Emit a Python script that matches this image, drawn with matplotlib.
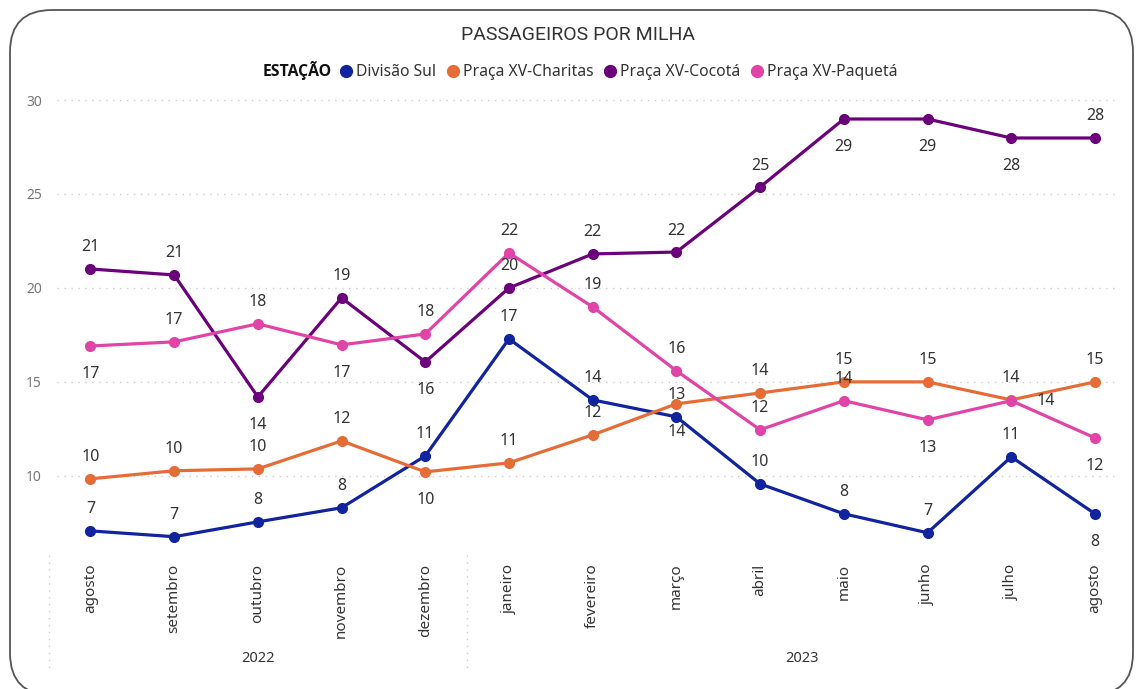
import matplotlib
matplotlib.use("Agg")
import matplotlib.pyplot as plt
from matplotlib.patches import FancyBboxPatch
from matplotlib.lines import Line2D
import matplotlib.transforms as mtransforms

# dados
meses = ["agosto", "setembro", "outubro", "novembro", "dezembro", "janeiro", "fevereiro",
         "março", "abril", "maio", "junho", "julho", "agosto"]
anos = ["2022", "2023"]
estacoes = ["Divisão Sul", "Praça XV-Charitas", "Praça XV-Cocotá", "Praça XV-Paquetá"]

divisao_sul = [7.07, 6.76, 7.55, 8.30, 11.06, 17.29, 14.04, 13.14, 9.57, 7.98, 6.97, 11.01, 7.98]
charitas = [9.84, 10.27, 10.37, 11.86, 10.21, 10.69, 12.18, 13.83, 14.41, 15.0, 15.0, 14.04, 15.0]
cocota = [21.01, 20.69, 14.20, 19.47, 16.06, 20.0, 21.81, 21.91, 25.37, 28.99, 28.99, 27.98, 27.98]
paqueta = [16.91, 17.13, 18.09, 16.97, 17.55, 21.86, 18.99, 15.59, 12.45, 14.0, 12.98, 14.0, 12.02]

# posicao dos rotulos (a = acima, b = abaixo, d = direita)
pos_divisao = ["a"] * 12 + ["b"]
pos_charitas = ["a"] * 4 + ["b"] + ["a"] * 2 + ["b"] + ["a"] * 5
pos_cocota = ["a", "a", "b", "a", "b", "a", "a", "a", "a", "b", "b", "b", "a"]
pos_paqueta = ["b", "a", "a", "b", "a", "a", "a", "a", "a", "a", "b", "d", "b"]

cores = ["#12239E", "#E66C37", "#6B007B", "#E044A7"]
series = [divisao_sul, charitas, cocota, paqueta]
posicoes = [pos_divisao, pos_charitas, pos_cocota, pos_paqueta]

plt.rcParams["font.family"] = ["Noto Sans", "DejaVu Sans"]

fig = plt.figure(figsize=(11.37, 6.89), dpi=100)
ax = fig.add_axes([0.0501, 0.2003, 0.935, 0.6627])

x = list(range(len(meses)))
for nome, vals, cor, pos in zip(estacoes, series, cores, posicoes):
    ax.plot(x, vals, color=cor, lw=2.3, marker="o", ms=7, label=nome, zorder=3)
    for xi, v, p in zip(x, vals, pos):
        if p == "a":
            off = (0, 15.5)
        elif p == "b":
            off = (0, -20.5)
        else:
            off = (25, 0)
        ax.annotate(f"{v:.0f}", (xi, v), xytext=off, textcoords="offset points",
                    ha="center", va="center", fontsize=11.5, color="#333333", zorder=4)

ax.set_xlim(-0.4, 12.3)
ax.set_ylim(6, 30.3)
ax.set_yticks([10, 15, 20, 25, 30])
ax.grid(axis="y", color="#cccccc", ls=(0, (1, 4)), lw=1)
ax.set_axisbelow(True)
for s in ax.spines.values():
    s.set_visible(False)
ax.tick_params(axis="y", length=0, labelsize=10, labelcolor="#777777", pad=11)
ax.set_xticks(x)
ax.set_xticklabels(meses, rotation=90, fontsize=11, color="#333333")
ax.tick_params(axis="x", length=0, pad=9)

# anos e separadores
trans = mtransforms.blended_transform_factory(ax.transData, ax.transAxes)
ax.text(2, -0.236, anos[0], transform=trans, ha="center", va="center", fontsize=10.5, color="#333333")
ax.text(8.5, -0.236, anos[1], transform=trans, ha="center", va="center", fontsize=10.5, color="#333333")
for xs in [-0.5, 4.5]:
    ax.add_line(Line2D([xs, xs], [-0.009, -0.265], transform=trans, color="#cccccc",
                       ls=(0, (1, 4)), lw=1, clip_on=False))

# titulo e legenda
fig.text(578 / 1137, 1 - 35 / 689, "PASSAGEIROS POR MILHA", ha="center", va="center",
         fontsize=14, color="#333333", family=["Roboto", "DejaVu Sans"])
fig.text(332 / 1137, 1 - 71 / 689, "ESTAÇÃO", ha="right", va="center",
         fontsize=11.3, fontweight="bold", color="#111111", family=["Open Sans", "DejaVu Sans"])
handles = [Line2D([], [], ls="none", marker="o", ms=8.5, color=c) for c in cores]
fig.legend(handles, estacoes, loc="center left", bbox_to_anchor=(337 / 1137, 1 - 72 / 689),
           ncol=4, frameon=False, handletextpad=0.0, columnspacing=0.5, handlelength=1.2,
           fontsize=11.3, labelcolor="#333333", borderaxespad=0, borderpad=0)

# borda arredondada
borda = FancyBboxPatch((10, -6), 1123, 685, boxstyle="round,pad=0,rounding_size=42",
                       transform=None, fill=False, ec="#555555", lw=1.3)
fig.patches.append(borda)

fig.savefig("out.png", dpi=100)
